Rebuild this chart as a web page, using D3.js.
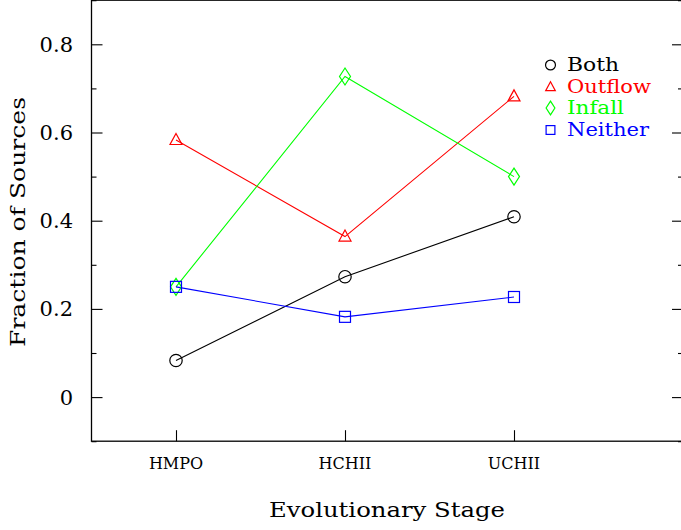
<!DOCTYPE html>
<html><head><meta charset="utf-8">
<script src="https://cdn.jsdelivr.net/npm/d3@7"></script>
<style>html,body{margin:0;padding:0;background:#fff;} svg{display:block;}</style>
</head><body>
<svg id="c" width="681" height="530"></svg>
<script>
const categories = ["HMPO", "HCHII", "UCHII"];
const both    = [0.083, 0.273, 0.409];
const outflow = [0.583, 0.364, 0.682];
const infall  = [0.250, 0.727, 0.500];
const neither = [0.250, 0.182, 0.227];
const yMajor = [0, 0.2, 0.4, 0.6, 0.8];
const yMinor = [-0.1, 0.1, 0.3, 0.5, 0.7, 0.9];
const seriesNames = ["Both", "Outflow", "Infall", "Neither"];

const series = [
  {name: seriesNames[0], values: both,    color: "#000000", sym: "circle",   w: 52},
  {name: seriesNames[1], values: outflow, color: "#ff0000", sym: "triangle", w: 84},
  {name: seriesNames[2], values: infall,  color: "#00ff00", sym: "diamond",  w: 57},
  {name: seriesNames[3], values: neither, color: "#0000ff", sym: "square",   w: 82}
];

const svg = d3.select("#c");
const FONT = "'DejaVu Serif', serif";
const x = d3.scaleLinear().domain([0.5, 4]).range([91.5, 683]);
const y = d3.scaleLinear().domain([-0.1, 0.9]).range([441.2, 0.2]);

// frame
svg.append("rect").attr("x", x(0.5)).attr("y", y(0.9)).attr("width", x(4) - x(0.5)).attr("height", y(-0.1) - y(0.9))
  .attr("fill", "none").attr("stroke", "#000").attr("stroke-width", 1.3);

// y axis left (ticks inside)
const yl = d3.axisRight(y).tickValues(yMajor).tickSize(11).tickFormat("");
const gl = svg.append("g").attr("transform", `translate(${x(0.5)},0)`).call(yl);
gl.select(".domain").remove();
const yl2 = d3.axisRight(y).tickValues(yMinor).tickSize(5).tickFormat("");
const gl2 = svg.append("g").attr("transform", `translate(${x(0.5)},0)`).call(yl2);
gl2.select(".domain").remove();
// right
const yr = d3.axisLeft(y).tickValues(yMajor).tickSize(11).tickFormat("");
const gr = svg.append("g").attr("transform", `translate(${x(4)},0)`).call(yr);
gr.select(".domain").remove();
const yr2 = d3.axisLeft(y).tickValues(yMinor).tickSize(5).tickFormat("");
const gr2 = svg.append("g").attr("transform", `translate(${x(4)},0)`).call(yr2);
gr2.select(".domain").remove();
svg.selectAll(".tick line").attr("stroke", "#000").attr("stroke-width", 1.1);

// y tick labels
svg.append("g").selectAll("text").data(yMajor).join("text")
  .attr("x", 73).attr("y", d => y(d)).attr("dy", "0.36em")
  .attr("text-anchor", "end").attr("font-family", FONT).attr("font-size", 21)
  .attr("fill", "#000").text(d => d === 0 ? "0" : d3.format(".1f")(d));

// x axis ticks
const xa = d3.axisTop(x).tickValues([1, 2, 3]).tickSize(11).tickFormat("");
const gx = svg.append("g").attr("transform", `translate(0,${y(-0.1)})`).call(xa);
gx.select(".domain").remove();
gx.selectAll(".tick line").attr("stroke", "#000").attr("stroke-width", 1.1);
svg.append("g").selectAll("text").data(categories).join("text")
  .attr("x", (d, i) => x(i + 1)).attr("y", 469)
  .attr("text-anchor", "middle").attr("font-family", FONT).attr("font-size", 16)
  .attr("fill", "#000").text(d => d);

// titles
svg.append("text").attr("x", 387).attr("y", 517).attr("text-anchor", "middle")
  .attr("font-family", FONT).attr("font-size", 21).attr("textLength", 236).attr("lengthAdjust", "spacingAndGlyphs")
  .text("Evolutionary Stage");
svg.append("text").attr("transform", "translate(25,222) rotate(-90)").attr("text-anchor", "middle")
  .attr("font-family", FONT).attr("font-size", 21).attr("textLength", 250).attr("lengthAdjust", "spacingAndGlyphs")
  .text("Fraction of Sources");

function drawSym(g, sym, cx, cy, color, s) {
  if (sym === "circle") {
    g.append("circle").attr("cx", cx).attr("cy", cy).attr("r", 6.2 * s)
      .attr("fill", "none").attr("stroke", color).attr("stroke-width", 1.2);
  } else if (sym === "square") {
    const h = 5.5 * s;
    g.append("rect").attr("x", cx - h).attr("y", cy - h).attr("width", 2 * h).attr("height", 2 * h)
      .attr("fill", "none").attr("stroke", color).attr("stroke-width", 1.2);
  } else if (sym === "triangle") {
    const w = 6 * s, t = 6.5 * s, b = 4.5 * s;
    g.append("path").attr("d", `M${cx},${cy - t}L${cx + w},${cy + b}L${cx - w},${cy + b}Z`)
      .attr("fill", "none").attr("stroke", color).attr("stroke-width", 1.2);
  } else if (sym === "diamond") {
    const w = 5.5 * s, h = 8.5 * s;
    g.append("path").attr("d", `M${cx},${cy - h}L${cx + w},${cy}L${cx},${cy + h}L${cx - w},${cy}Z`)
      .attr("fill", "none").attr("stroke", color).attr("stroke-width", 1.2);
  }
}

const line = d3.line().x((d, i) => x(i + 1)).y(d => y(d));
series.forEach(s => {
  svg.append("path").datum(s.values).attr("d", line).attr("fill", "none")
    .attr("stroke", s.color).attr("stroke-width", 1.1);
});
series.forEach(s => {
  const g = svg.append("g");
  s.values.forEach((v, i) => drawSym(g, s.sym, x(i + 1), y(v), s.color, 1));
});

// legend
const legY = [65, 87, 108, 130];
series.forEach((s, i) => {
  const g = svg.append("g");
  drawSym(g, s.sym, 550.5, legY[i], s.color, 0.8);
  g.append("text").attr("x", 567).attr("y", legY[i]).attr("dy", "0.33em")
    .attr("font-family", FONT).attr("font-size", 18.5).attr("fill", s.color)
    .attr("textLength", s.w).attr("lengthAdjust", "spacingAndGlyphs").text(s.name);
});
</script>
</body></html>
